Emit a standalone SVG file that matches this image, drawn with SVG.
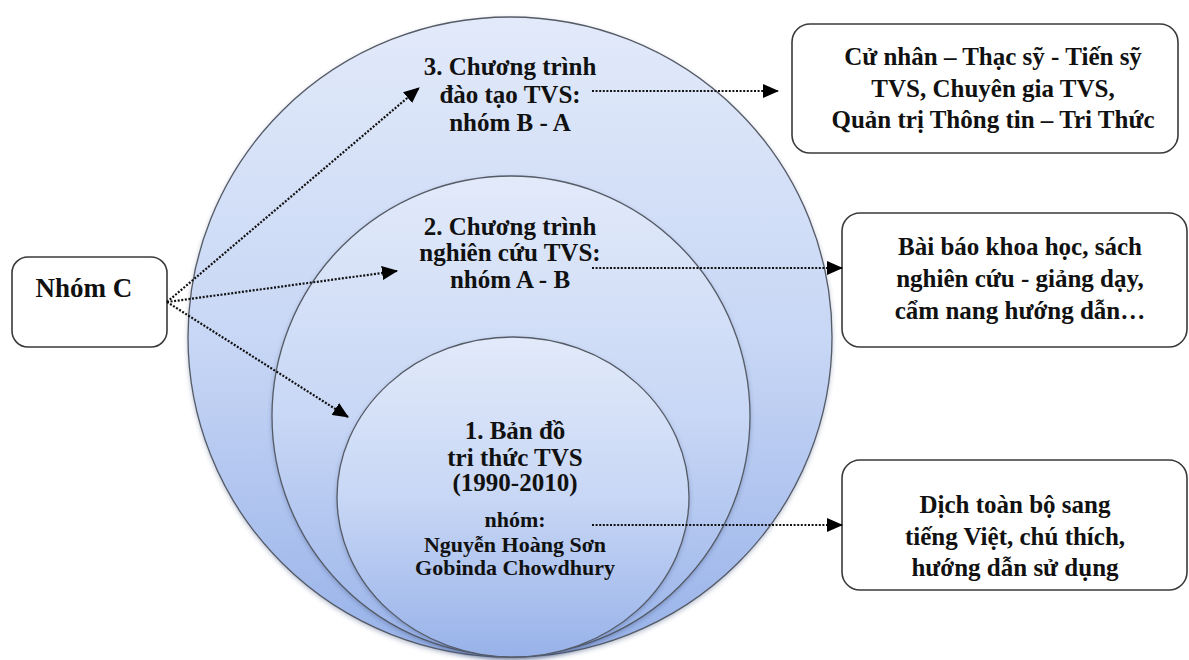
<svg xmlns="http://www.w3.org/2000/svg" width="1189" height="660" viewBox="0 0 1189 660">
<defs>
<linearGradient id="gBlue" x1="0" y1="0" x2="0" y2="1">
<stop offset="0" stop-color="#e2eafa"/>
<stop offset="0.5" stop-color="#c8d7f5"/>
<stop offset="1" stop-color="#98b2e9"/>
</linearGradient>
<filter id="sh" x="-10%" y="-10%" width="120%" height="120%">
<feDropShadow dx="0" dy="2" stdDeviation="2" flood-color="#3a4f80" flood-opacity="0.35"/>
</filter>
<marker id="arr" markerWidth="16" markerHeight="14" refX="15" refY="7" orient="auto" markerUnits="userSpaceOnUse" viewBox="0 0 16 14">
<path d="M0,0 L16,7 L0,14 Z" fill="#000"/>
</marker>
<style>
.circ{fill:url(#gBlue);stroke:#555b66;stroke-width:1.3;filter:url(#sh)}
.box{fill:#fff;stroke:#3a3a3a;stroke-width:1.6}
.t{font-family:"Liberation Serif","Times New Roman",serif;font-weight:bold;fill:#111;text-anchor:middle}
.c{stroke:#111;stroke-width:2.2;stroke-dasharray:2 1.6;fill:none;marker-end:url(#arr)}
</style>
</defs>
<rect width="1189" height="660" fill="#fff"/>

<g id="circle3">
<ellipse class="circ" cx="510" cy="337" rx="322" ry="320"/>
<text class="t" font-size="25" x="510" y="75">3. Chương trình</text>
<text class="t" font-size="25" x="510" y="103">đào tạo TVS:</text>
<text class="t" font-size="25" x="510" y="131">nhóm B - A</text>
</g>

<g id="circle2">
<ellipse class="circ" cx="511" cy="416" rx="239" ry="240"/>
<text class="t" font-size="25" x="510" y="235">2. Chương trình</text>
<text class="t" font-size="25" x="510" y="261">nghiên cứu TVS:</text>
<text class="t" font-size="25" x="510" y="288">nhóm A - B</text>
</g>

<g id="circle1">
<ellipse class="circ" cx="513" cy="497" rx="176" ry="160"/>
<text class="t" font-size="25" x="515" y="439">1. Bản đồ</text>
<text class="t" font-size="25" x="515" y="466">tri thức TVS</text>
<text class="t" font-size="25" x="515" y="491">(1990-2010)</text>
<text class="t" font-size="22" x="515" y="527">nhóm:</text>
<text class="t" font-size="22" x="515" y="552">Nguyễn Hoàng Sơn</text>
<text class="t" font-size="22" x="515" y="575">Gobinda Chowdhury</text>
</g>

<g id="nhomC">
<rect class="box" x="12" y="257" width="155" height="90" rx="16"/>
<text class="t" font-size="27" x="84" y="297">Nhóm C</text>
</g>

<g id="box1">
<rect class="box" x="792" y="24" width="386" height="129" rx="18"/>
<text class="t" font-size="25" x="993" y="65">Cử nhân – Thạc sỹ - Tiến sỹ</text>
<text class="t" font-size="25" x="993" y="97">TVS, Chuyên gia TVS,</text>
<text class="t" font-size="25" x="993" y="128">Quản trị Thông tin – Tri Thức</text>
</g>

<g id="box2">
<rect class="box" x="842" y="213" width="345" height="134" rx="18"/>
<text class="t" font-size="25" x="1020" y="255">Bài báo khoa học, sách</text>
<text class="t" font-size="25" x="1020" y="287">nghiên cứu - giảng dạy,</text>
<text class="t" font-size="25" x="1020" y="319">cẩm nang hướng dẫn…</text>
</g>

<g id="box3">
<rect class="box" x="842" y="460" width="345" height="130" rx="18"/>
<text class="t" font-size="25" x="1015" y="513">Dịch toàn bộ sang</text>
<text class="t" font-size="25" x="1015" y="545">tiếng Việt, chú thích,</text>
<text class="t" font-size="25" x="1015" y="576">hướng dẫn sử dụng</text>
</g>

<g id="connectors">
<path class="c" d="M167,302 L419,88"/>
<path class="c" d="M167,302 L397,271"/>
<path class="c" d="M167,302 L348,417"/>
<path class="c" d="M592,91 L778,91"/>
<path class="c" d="M592,268 L842,268"/>
<path class="c" d="M592,525 L842,525"/>
</g>
</svg>
